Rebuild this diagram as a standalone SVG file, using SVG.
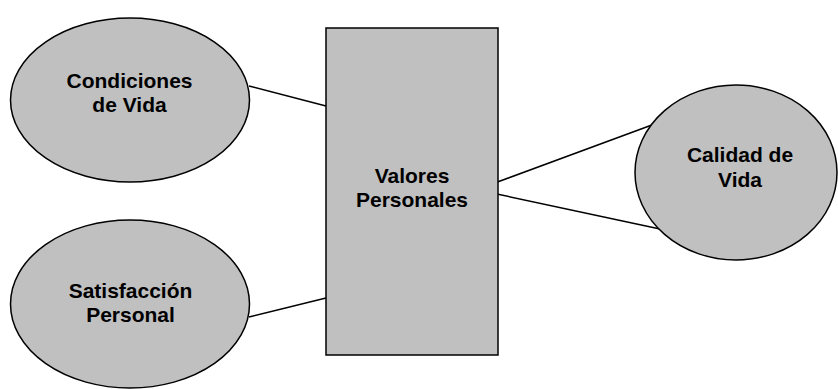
<svg xmlns="http://www.w3.org/2000/svg" width="838" height="389" viewBox="0 0 838 389">
<style>
.shape{fill:#c0c0c0;stroke:#000;stroke-width:1.5}
.lbl{font-family:"Liberation Sans",Arial,sans-serif;font-weight:bold;font-size:21px;fill:#000;text-anchor:middle}
.conn line{stroke:#000;stroke-width:1.5}
</style>
<rect width="838" height="389" fill="#fff"/>
<g class="conn">
<line x1="249" y1="86" x2="326" y2="106"/>
<line x1="249" y1="317" x2="326" y2="298"/>
<line x1="492" y1="184" x2="660" y2="122"/>
<line x1="492" y1="193" x2="660" y2="229"/>
</g>
<g id="condiciones">
<ellipse class="shape" cx="130" cy="100" rx="119.5" ry="82"/>
<text class="lbl" x="129.5" y="88">Condiciones</text>
<text class="lbl" x="129.5" y="112">de Vida</text>
</g>
<g id="satisfaccion">
<ellipse class="shape" cx="130" cy="304" rx="119.5" ry="84"/>
<text class="lbl" x="130.5" y="298">Satisfacción</text>
<text class="lbl" x="130.5" y="322">Personal</text>
</g>
<g id="valores">
<rect class="shape" x="326" y="28" width="172" height="327"/>
<text class="lbl" x="412" y="183">Valores</text>
<text class="lbl" x="412" y="207">Personales</text>
</g>
<g id="calidad">
<ellipse class="shape" cx="736" cy="172.5" rx="101" ry="87.5"/>
<text class="lbl" x="740" y="162">Calidad de</text>
<text class="lbl" x="740" y="186.5">Vida</text>
</g>
</svg>
